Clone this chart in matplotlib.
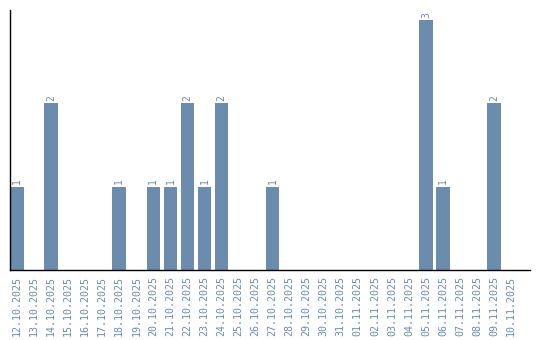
import matplotlib
matplotlib.use("Agg")
import matplotlib.pyplot as plt
import pandas as pd

dates = pd.date_range("2025-10-12", "2025-11-10", freq="D")
labels = [d.strftime("%d.%m.%Y") for d in dates]
counts_map = {
    "12.10.2025": 1, "14.10.2025": 2, "18.10.2025": 1, "20.10.2025": 1,
    "21.10.2025": 1, "22.10.2025": 2, "23.10.2025": 1, "24.10.2025": 2,
    "27.10.2025": 1, "05.11.2025": 3, "06.11.2025": 1, "09.11.2025": 2,
}
values = [counts_map.get(l, 0) for l in labels]

bar_color = "#6b8cac"
text_color = "#6a8cad"

fig = plt.figure(figsize=(5.4, 3.4), dpi=100)
ax = fig.add_axes([10/540, 70/340, 520/540, 260/340])
x = list(range(len(labels)))
ax.bar(x, values, width=0.8, color=bar_color)
for xi, v in zip(x, values):
    if v > 0:
        ax.text(xi, v + 0.03, str(v), rotation=90, ha="center", va="bottom",
                fontsize=7, color=text_color, family="DejaVu Sans Mono")
ax.set_xlim(-0.41, len(labels) + 0.1)
ax.set_ylim(0, 3.12)
ax.set_xticks(x)
ax.set_xticklabels(labels, rotation=90, fontsize=7.2, color=text_color, family="DejaVu Sans Mono")
ax.tick_params(axis="x", length=0, pad=4)
ax.set_yticks([])
ax.spines["top"].set_visible(False)
ax.spines["right"].set_visible(False)
ax.spines["left"].set_linewidth(1)
ax.spines["bottom"].set_linewidth(1)
fig.savefig("out.png", dpi=100)
